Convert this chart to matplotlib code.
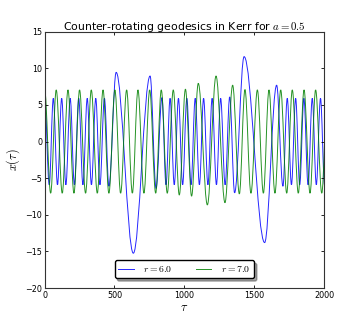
import matplotlib
matplotlib.use('Agg')
import matplotlib.pyplot as plt
from matplotlib.path import Path
from matplotlib.patches import PathPatch
from matplotlib.lines import Line2D

# Extrema (turning points) of x(tau)
tau_r6 = [0, 33, 62, 92, 122, 152, 183, 213, 244, 274, 305, 335, 366, 396, 428, 460,
          512, 635, 755, 798, 840, 869, 898, 928, 958, 988, 1018, 1048, 1078, 1108,
          1138, 1169, 1199, 1230, 1260, 1292, 1325, 1360, 1428, 1575, 1661, 1706,
          1737, 1767, 1797, 1826, 1856, 1886, 1916, 1945, 1975, 2004]
x_r6 = [5.9, -5.9, 5.9, -5.9, 5.9, -5.9, 5.9, -5.9, 5.9, -5.9, 5.9, -5.9, 5.9, -5.9, 5.9, -6.1,
        9.45, -15.25, 8.95, -6.4, 6.0, -5.9, 5.9, -5.9, 5.9, -5.9, 5.9, -5.9, 5.9, -5.9,
        5.9, -5.9, 5.9, -5.9, 5.9, -5.9, 6.1, -7.0, 11.6, -13.8, 7.7, -6.1,
        5.9, -5.9, 5.9, -5.9, 5.9, -5.9, 5.9, -5.9, 5.9, -5.9]

tau_r7 = [0, 43, 83, 126, 167, 210, 250, 293, 334, 377, 418, 460, 503, 544, 587, 628,
          668, 711, 752, 795, 835, 878, 921, 964, 1008, 1052, 1100, 1165, 1227, 1291,
          1346, 1394, 1434, 1477, 1523, 1566, 1606, 1649, 1690, 1733, 1773, 1816,
          1857, 1900, 1940, 1984, 2024]
x_r7 = [7.05, -7.05, 7.05, -7.05, 7.05, -7.05, 7.05, -7.05, 7.05, -7.05, 7.05, -7.05, 7.05, -7.05, 7.05, -7.05,
        7.05, -7.05, 7.05, -7.05, 7.05, -7.05, 7.05, -7.3, 7.15, -7.45, 7.95, -8.65, 8.95, -8.35,
        7.7, -7.15, 7.1, -7.05, 7.05, -7.05, 7.05, -7.05, 7.05, -7.05, 7.05, -7.05,
        7.05, -7.05, 7.05, -7.05, 7.05]

series_labels = ['$r=6.0$', '$r=7.0$']
series_colors = ['b', 'g']
x_ticks = [0, 500, 1000, 1500, 2000]
y_ticks = [-20, -15, -10, -5, 0, 5, 10, 15]

plt.rcParams['mathtext.fontset'] = 'cm'
plt.rcParams['font.family'] = 'DejaVu Sans'

fig = plt.figure(figsize=(3.6, 3.21), dpi=100)
ax = fig.add_axes([0.124, 0.1028, 0.776, 0.7984])


def smooth_path(ts, vs, k=0.363):
    verts = [(ts[0], vs[0])]
    codes = [Path.MOVETO]
    for i in range(len(ts) - 1):
        t0, v0, t1, v1 = ts[i], vs[i], ts[i + 1], vs[i + 1]
        dt = t1 - t0
        verts += [(t0 + k * dt, v0), (t1 - k * dt, v1), (t1, v1)]
        codes += [Path.CURVE4] * 3
    return Path(verts, codes)


handles = []
for ts, vs, c, lab in [(tau_r6, x_r6, series_colors[0], series_labels[0]),
                       (tau_r7, x_r7, series_colors[1], series_labels[1])]:
    patch = PathPatch(smooth_path(ts, vs), facecolor='none', edgecolor=c, lw=0.7,
                      alpha=0.85)
    ax.add_patch(patch)
    handles.append(Line2D([], [], color=c, lw=0.7, alpha=0.85, label=lab))

ax.set_xlim(0, 2000)
ax.set_ylim(-20, 15)
ax.set_xticks(x_ticks)
ax.set_yticks(y_ticks)
ax.tick_params(direction='in', length=2.2, width=0.6, top=True, right=True,
               labelsize=5.8, pad=1.8)
for s in ax.spines.values():
    s.set_linewidth(0.8)
    s.set_edgecolor('#333333')

ax.set_title('Counter-rotating geodesics in Kerr for $a=0.5$', fontsize=7.8, pad=1.5)
ax.set_xlabel(r'$\tau$', fontsize=8.8, labelpad=1)
ax.set_ylabel(r'$x(\tau)$', fontsize=8.8, labelpad=2)

ax.legend(handles=handles, loc='lower center', bbox_to_anchor=(0.5, 0.038),
          borderaxespad=0, ncol=2, fontsize=7.0, fancybox=True, shadow=True,
          handlelength=1.55, handletextpad=1.0, columnspacing=2.4,
          framealpha=1, edgecolor='black')

fig.savefig('out.png', dpi=100)
